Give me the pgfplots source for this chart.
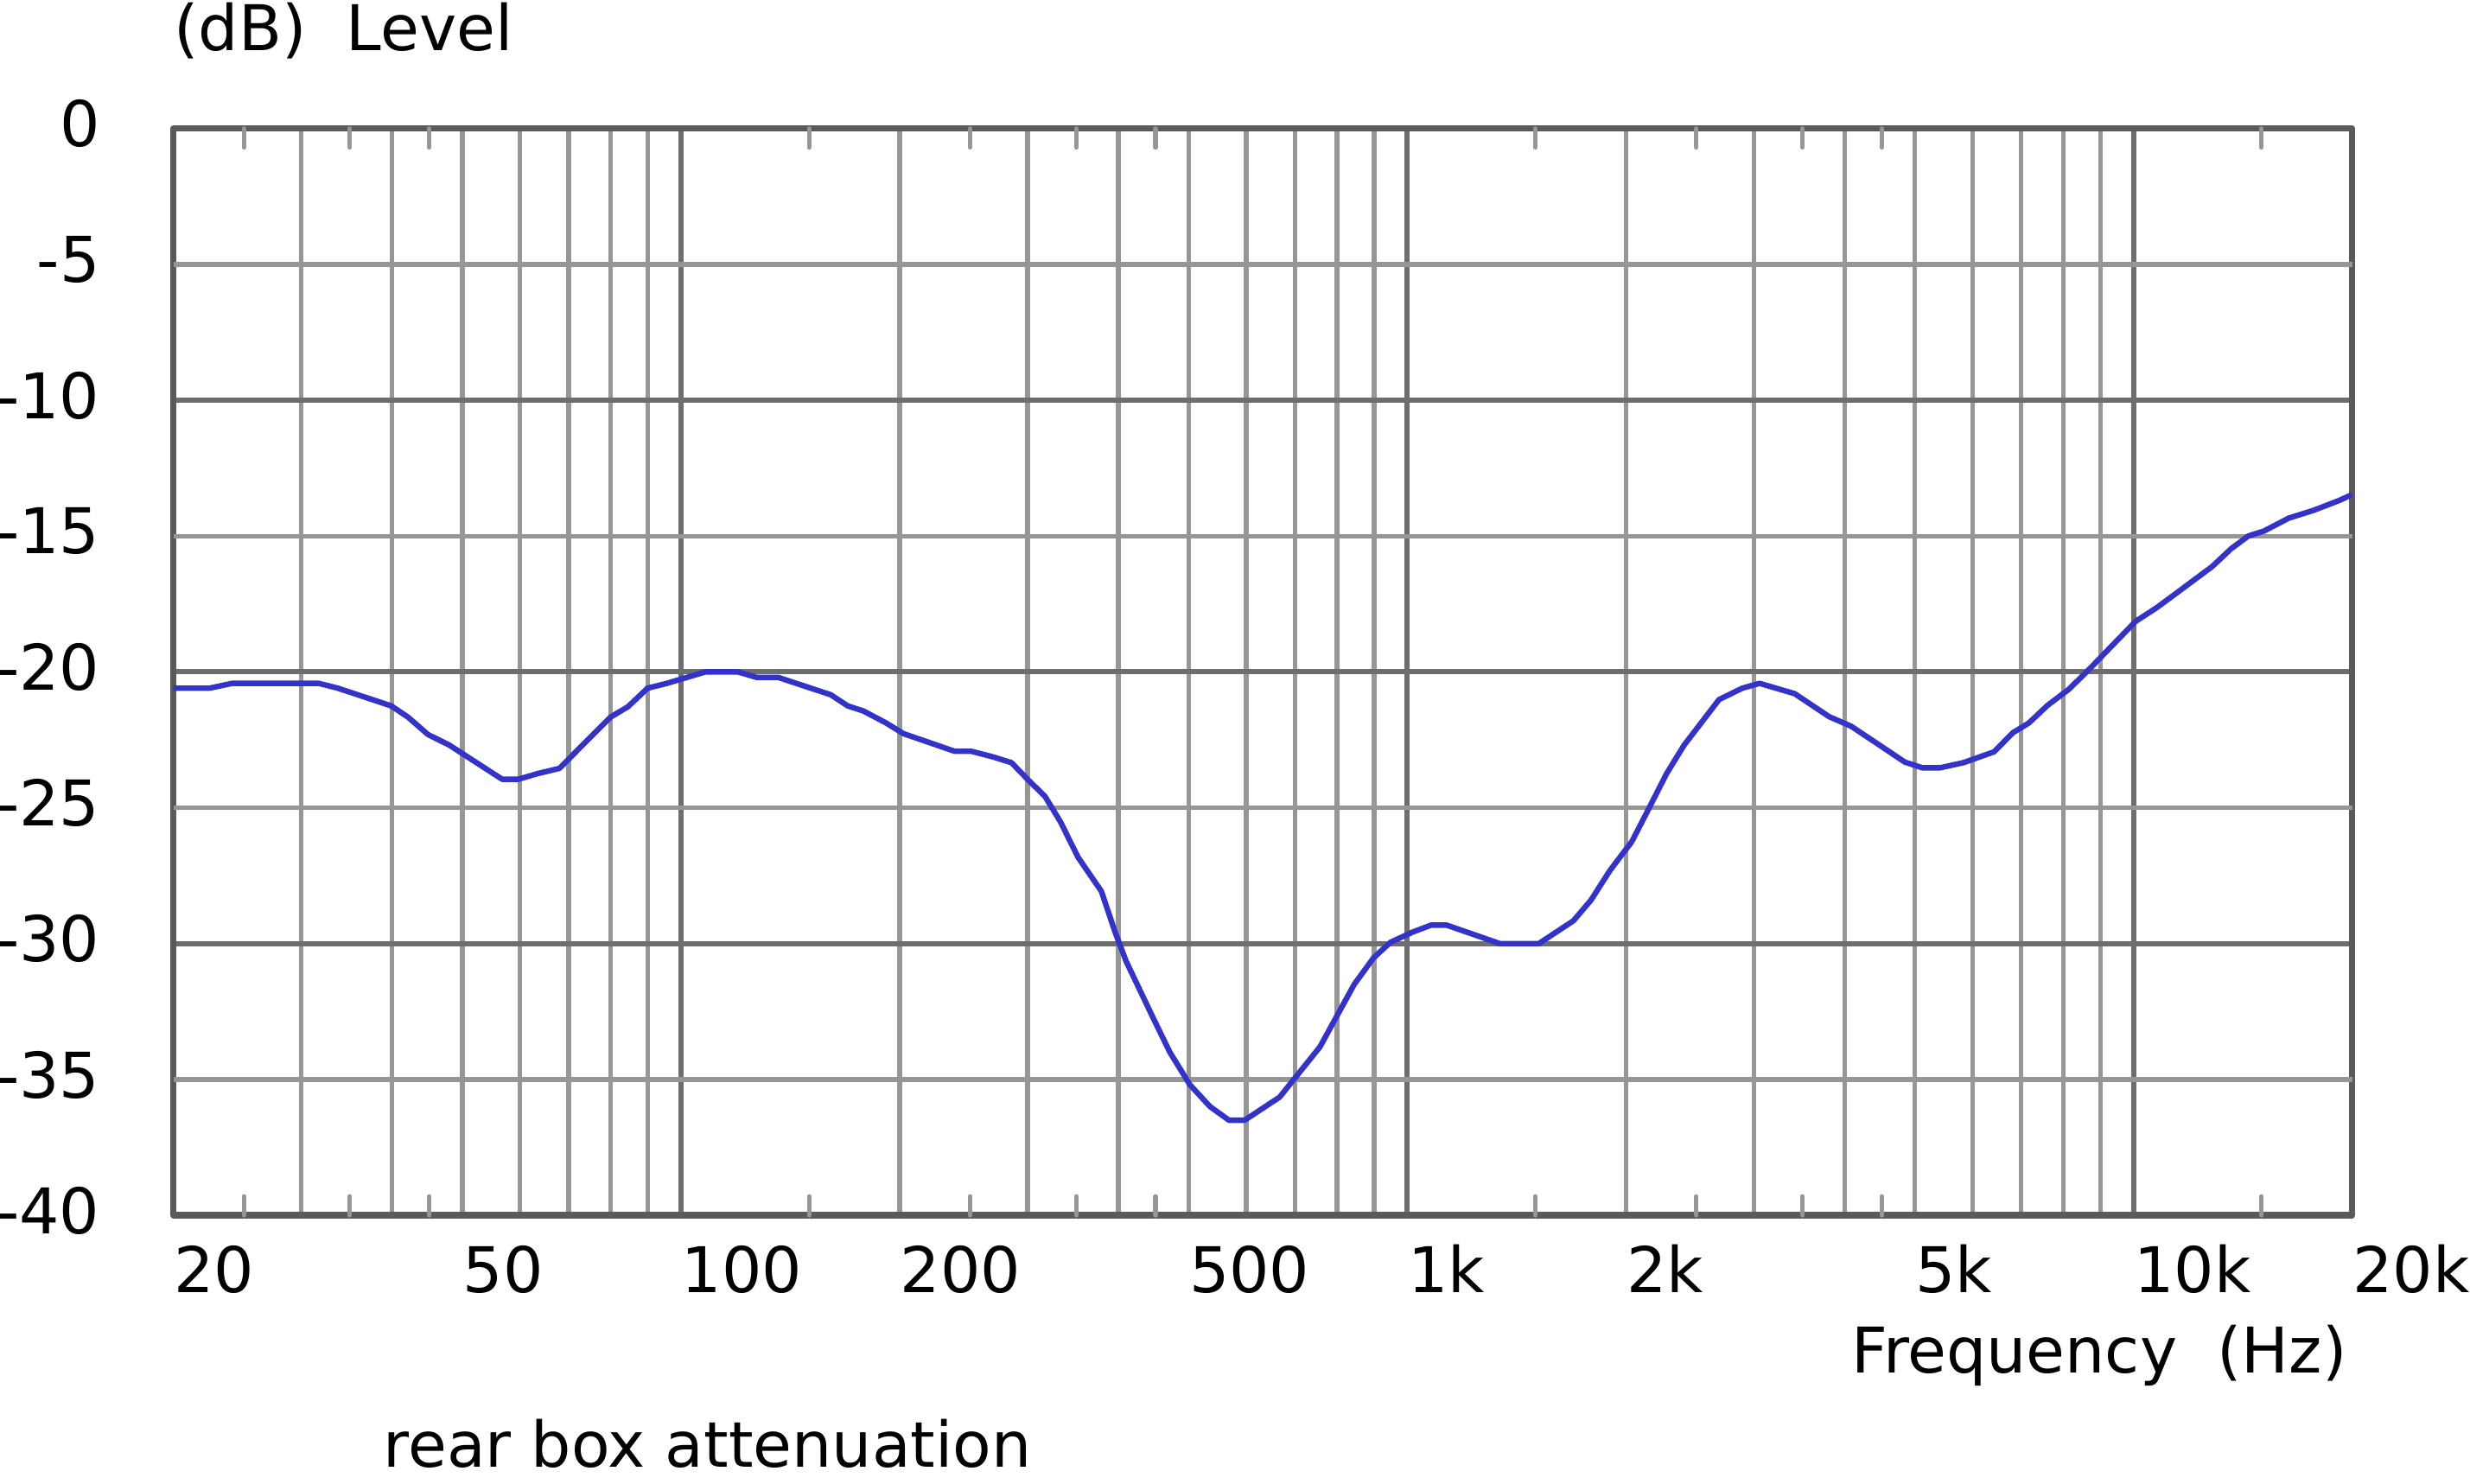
\documentclass[border=0pt]{standalone}
\usepackage{fontspec}
\setmainfont{DejaVu Sans}
\usepackage{pgfplots}
\pgfplotsset{compat=1.18}
\definecolor{framec}{RGB}{90,90,90}
\definecolor{gdark}{RGB}{110,110,110}
\definecolor{glight}{RGB}{150,150,150}
\definecolor{curvec}{RGB}{51,51,204}
\newcommand\lbl{\fontsize{20}{24}\selectfont}
\begin{document}
\begin{tikzpicture}
\begin{axis}[
  name=A,
  scale only axis, width=691.5pt, height=344.9pt,
  xmode=log, xmin=20, xmax=20000, ymin=-40, ymax=0,
  axis line style={draw=framec, line width=2pt, line join=round},
  xtick={100,1000,10000}, xticklabels={},
  minor xtick={30,40,50,60,70,80,90,200,300,400,500,600,700,800,900,2000,3000,4000,5000,6000,7000,8000,9000},
  extra x ticks={25,35,45,150,250,350,450,1500,2500,3500,4500,15000},
  extra x tick labels={},
  extra x tick style={grid=none, major tick length=6pt, tick style={draw=glight, line width=1.4pt, line cap=round}},
  ytick={-40,-30,-20,-10,0}, yticklabels={-40,-30,-20,-10,0},
  extra y ticks={-35,-25,-15,-5}, extra y tick labels={-35,-25,-15,-5},
  extra y tick style={grid=major, major grid style={draw=glight, line width=1.45pt}},
  grid=both,
  major grid style={draw=gdark, line width=1.65pt},
  minor grid style={draw=glight, line width=1.45pt},
  major tick length=0pt, minor tick length=0pt,
  yticklabel style={font=\lbl, anchor=east, inner sep=0pt, xshift=-23.2pt, yshift=1.5pt},
]
\addplot[draw=curvec, line width=1.75pt, line join=round] table {
20 -20.6
22.4 -20.6
24.1 -20.42
31.7 -20.42
33.7 -20.6
39.9 -21.25
42.1 -21.67
44.8 -22.3
48.0 -22.7
56.7 -23.95
59.7 -23.95
63.5 -23.74
68.0 -23.55
79.9 -21.67
84.5 -21.28
89.9 -20.6
95.6 -20.42
108 -20.0
119.8 -20.0
127 -20.2
136 -20.2
160.7 -20.84
169.6 -21.25
178.3 -21.44
191.6 -21.88
202.3 -22.27
238 -22.92
251 -22.92
269 -23.13
285 -23.34
302 -24.03
317 -24.58
333 -25.52
352 -26.82
379 -28.07
396 -29.58
410 -30.65
446 -32.7
471 -34.0
502 -35.2
535 -36.0
568 -36.5
597 -36.5
667 -35.65
758 -33.8
845 -31.5
898 -30.53
948 -29.95
1016 -29.58
1078 -29.32
1133 -29.32
1341 -30.0
1517 -30.0
1693 -29.16
1790 -28.4
1902 -27.3
2037 -26.25
2153 -25.0
2275 -23.74
2404 -22.7
2686 -21.02
2891 -20.6
3054 -20.42
3414 -20.8
3811 -21.65
4085 -22.0
4843 -23.32
5120 -23.53
5411 -23.53
5830 -23.34
6426 -22.94
6819 -22.24
7174 -21.88
7613 -21.23
8152 -20.63
8732 -19.84
9226 -19.18
10064 -18.14
10780 -17.62
11493 -17.07
12829 -16.12
13619 -15.47
14380 -15.0
15131 -14.81
16354 -14.34
17706 -14.05
19190 -13.69
20000 -13.47
};
\coordinate (SW) at (rel axis cs:0,0);
\coordinate (NE) at (rel axis cs:1,1);
\end{axis}
\begin{axis}[
  scale only axis, width=691.5pt, height=344.9pt,
  xmode=log, xmin=20, xmax=20000, ymin=-40, ymax=0,
  axis line style={draw=none},
  xtick={20,50,100,200,500,1000,2000,5000,10000,20000},
  xticklabels={20,50,100,200,500,1k,2k,5k,10k,20k},
  ytick=\empty, major tick length=0pt, minor tick length=0pt,
  xticklabel style={font=\lbl, anchor=base west, inner sep=0pt, yshift=-24.5pt},
]
\end{axis}
\node[font=\lbl, anchor=base west, inner sep=0pt] at ([yshift=24.8pt]SW |- NE) {(dB)\ \ Level};
\node[font=\lbl, anchor=base east, inner sep=0pt] at ([xshift=-1.5pt, yshift=-50pt]NE |- SW) {Frequency\ \ (Hz)};
\node[font=\lbl, anchor=base west, inner sep=0pt] at ([xshift=66.5pt, yshift=-80pt]SW) {rear box attenuation};
\pgfresetboundingbox
\path[use as bounding box] ([shift={(-55.05pt,-85.05pt)}]SW) rectangle ([shift={(37.4pt,40.8pt)}]NE);
\end{tikzpicture}
\end{document}
